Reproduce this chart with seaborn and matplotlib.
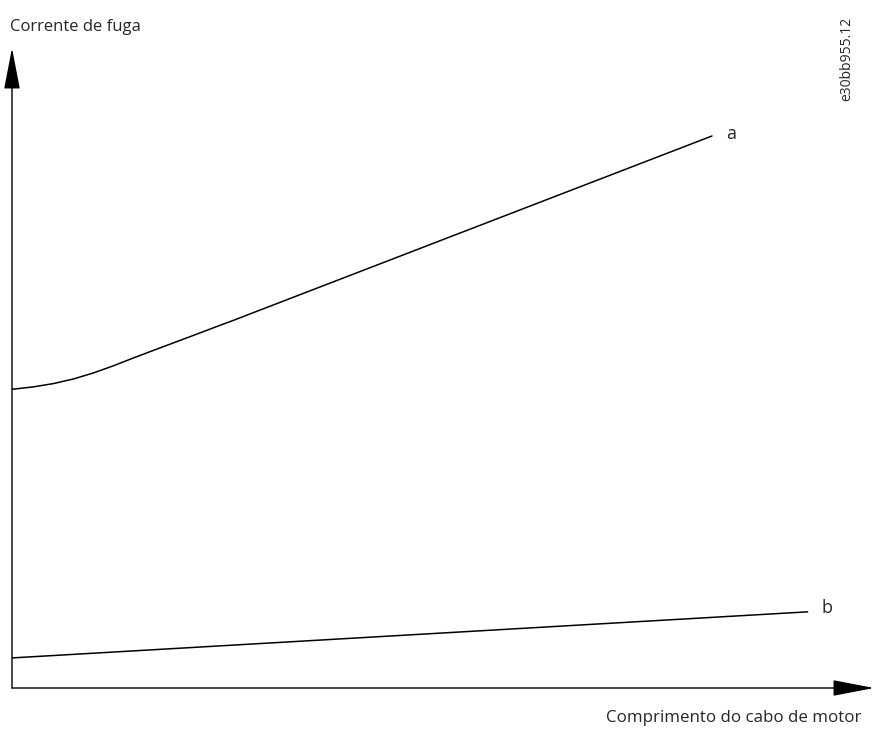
import matplotlib
matplotlib.use("Agg")
import matplotlib.pyplot as plt
import seaborn as sns
import pandas as pd

# cable length (arbitrary units) vs leakage current (arbitrary units)
len_a = [0, 2.47, 4.79, 7.11, 9.43, 11.75, 14.07, 16.40, 18.72, 21.04,
         23.35, 25.67, 81.2]
cur_a = [46.67, 47.05, 47.56, 48.28, 49.22, 50.34, 51.56, 52.75, 53.92,
         55.09, 56.27, 57.44, 86.25]
len_b = [0, 92.3]
cur_b = [4.7, 11.9]

labels = ["a", "b"]
label_pos = [(83.4, 86.6), (94.5, 12.5)]

df_a = pd.DataFrame({"length": len_a, "current": cur_a})
df_b = pd.DataFrame({"length": len_b, "current": cur_b})

sns.set_style("white")
plt.rcParams["font.family"] = ["Open Sans", "DejaVu Sans"]

W, H = 874, 733
fig = plt.figure(figsize=(W / 100, H / 100), dpi=100)
ax = fig.add_axes([12 / W, 45 / H, 862 / W, 640 / H])

sns.lineplot(data=df_a, x="length", y="current", ax=ax, color="black",
             lw=1.1, sort=False)
sns.lineplot(data=df_b, x="length", y="current", ax=ax, color="black",
             lw=1.1, sort=False)

for lab, (x, y) in zip(labels, label_pos):
    ax.text(x, y, lab, fontsize=13, ha="center", va="center")

ax.set_xlim(0, 100)
ax.set_ylim(0, 100)
ax.set_xticks([])
ax.set_yticks([])
ax.set_xlabel("")
ax.set_ylabel("")
for s in ax.spines.values():
    s.set_visible(False)

arrow = dict(arrowstyle="-|>,head_length=26,head_width=5", mutation_scale=1,
             color="black", lw=1, shrinkA=0, shrinkB=0)
ax.annotate("", xy=(0, 1), xytext=(0, 0), xycoords="axes fraction",
            textcoords="axes fraction", arrowprops=arrow, annotation_clip=False)
ax.annotate("", xy=(1.0, 0), xytext=(0, 0), xycoords="axes fraction",
            textcoords="axes fraction", arrowprops=arrow, annotation_clip=False)

fig.text(10 / W, 1 - 27 / H, "Corrente de fuga", fontsize=12,
         ha="left", va="center")
fig.text(862 / W, 1 - 718 / H, "Comprimento do cabo de motor", fontsize=12.2,
         ha="right", va="center")
fig.text(847 / W, 1 - 59 / H, "e30bb955.12", fontsize=10, rotation=90,
         ha="center", va="center")

fig.savefig("out.png", dpi=100)
